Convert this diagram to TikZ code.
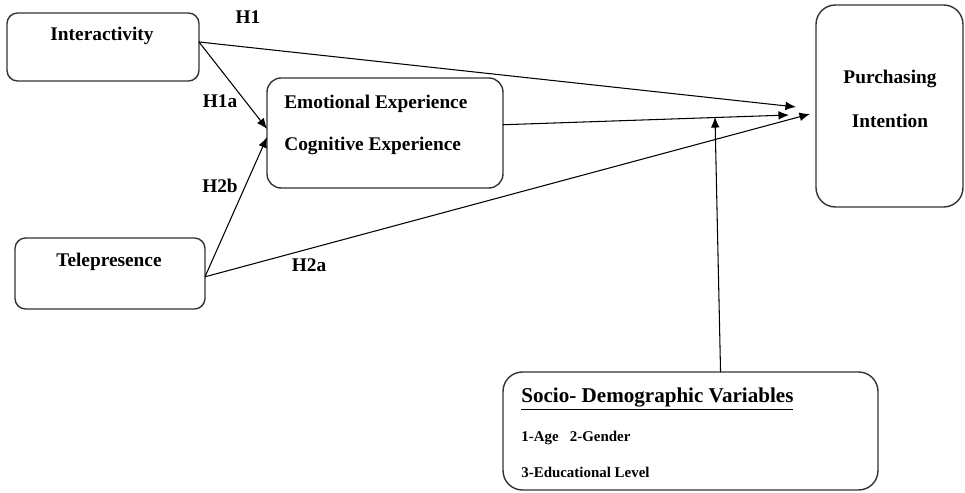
\documentclass[tikz,border=0pt]{standalone}
\usepackage{fontspec}
\setmainfont{Liberation Serif}
\usetikzlibrary{arrows.meta}
\begin{document}
\begin{tikzpicture}[x=0.02cm,y=-0.02cm]
		% définition des styles
		\tikzstyle{boite}=[rectangle,draw=black!80,line width=0.8pt,inner sep=0pt,outer sep=0pt,rounded corners=6pt]
		\tikzstyle{texte}=[inner sep=0pt,font=\fontsize{11}{13}\selectfont\bfseries,text=black]
		\tikzstyle{petit}=[inner sep=0pt,anchor=west,font=\fontsize{8.5}{10}\selectfont\bfseries,text=black]
		\tikzstyle{hypo}=[->,>={Latex[length=6pt,width=5pt]},line width=0.6pt]
		\useasboundingbox (0,0) rectangle (965,493);
		% les boîtes
		\node[boite,minimum width=3.84cm,minimum height=1.36cm] (inter) at (103,47) {};
		\node[boite,minimum width=4.72cm,minimum height=2.2cm,rounded corners=8pt] (emo) at (385,133) {};
		\node[boite,minimum width=3.8cm,minimum height=1.42cm] (tele) at (110,273.5) {};
		\node[boite,minimum width=2.94cm,minimum height=4.04cm,rounded corners=11pt] (achat) at (889.5,106) {};
		\node[boite,minimum width=7.5cm,minimum height=2.36cm,rounded corners=11pt] (socio) at (690.5,431) {};
		% les textes
		\node[texte] (tinter) at (102,36) {Interactivity};
		\node[texte,anchor=west] (temo) at (284,104) {Emotional Experience};
		\node[texte,anchor=west] (tcog) at (284,146) {Cognitive Experience};
		\node[texte] (ttele) at (109,262) {Telepresence};
		\node[texte] (tachat) at (890,79) {Purchasing};
		\node[texte] (tint) at (890,121) {Intention};
		\node[texte,anchor=west,font=\fontsize{12}{14}\selectfont\bfseries] (tsocio) at (521,399) {\underline{Socio- Demographic Variables}};
		\node[petit] (tage) at (521,438) {1-Age\ \ \ 2-Gender};
		\node[petit] (tedu) at (521,472) {3-Educational Level};
		% les extrémités libres
		\coordinate (p1) at (796,107);
		\coordinate (p2) at (789,115);
		\coordinate (p3) at (810,114);
		\coordinate (p4) at (715,117);
		% les flèches
		\draw[hypo] (inter.3) -- (p1);
		\draw[hypo] (inter.3) -- (emo.178);
		\draw[hypo] (tele.-2) -- (emo.182);
		\draw[hypo] (tele.-2) -- (p3);
		\draw[hypo] (emo.4) -- (p2);
		\draw[hypo] (socio.63) -- (p4);
		% les hypothèses
		\node[texte] (h1) at (248,17) {H1};
		\node[texte] (h1a) at (220,101) {H1a};
		\node[texte] (h2b) at (220,186) {H2b};
		\node[texte] (h2a) at (309,265) {H2a};
	\end{tikzpicture}
\end{document}
